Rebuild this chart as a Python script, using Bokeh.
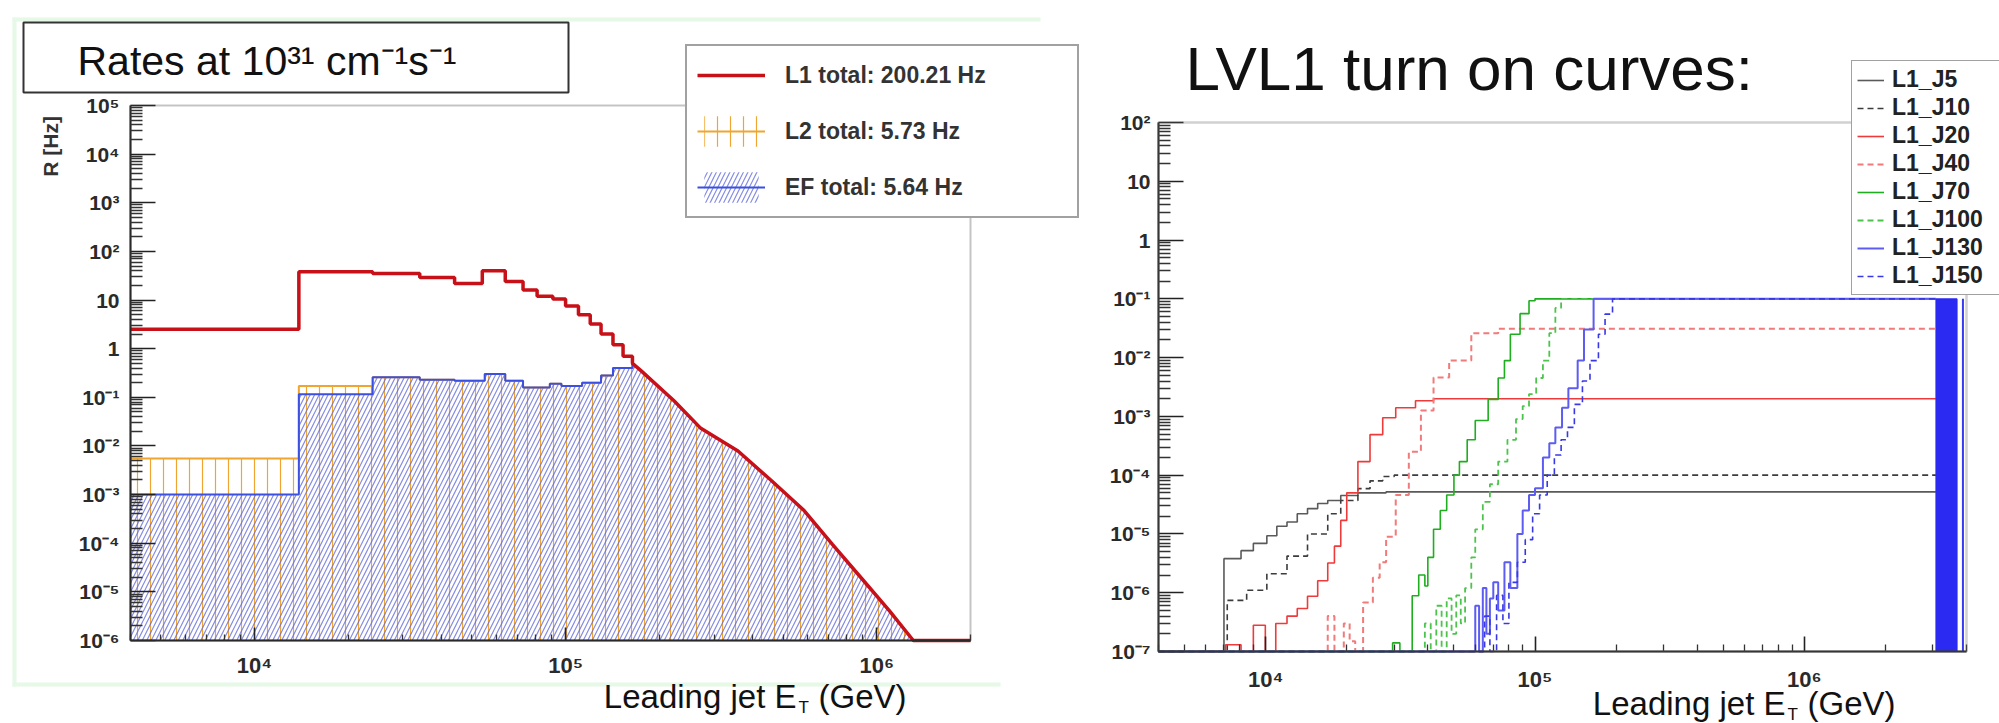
import math
from math import pi
from bokeh.plotting import figure
from bokeh.models import (Range1d, FixedTicker, CustomJSTickFormatter, Label,
                          Legend, LegendItem, BoxAnnotation)
from bokeh.layouts import row
from bokeh.embed import file_html
from bokeh.resources import INLINE

# ---------------- left panel data (rates vs leading jet E_T) ----------------
l1_edges = [4e3, 1.39e4, 2.4e4, 3.4e4, 4.4e4, 5.4e4, 6.4e4, 7.3e4, 8.1e4, 9.1e4,
            1.0e5, 1.1e5, 1.2e5, 1.3e5, 1.42e5, 1.53e5, 1.64e5]
l1_rate = [2.5, 38, 35, 29, 22, 40, 24, 16, 12, 10.5, 7.5, 5.0, 3.2, 2.0, 1.2, 0.7]
hlt_edges = [4e3, 1.39e4, 2.4e4, 3.4e4, 4.4e4, 5.5e4, 6.4e4, 7.3e4, 8.9e4, 9.7e4,
             1.13e5, 1.3e5, 1.42e5, 1.64e5]
l2_rate = [5.5e-3, 0.17, 0.26, 0.23, 0.22, 0.30, 0.22, 0.16, 0.19, 0.17, 0.20, 0.28, 0.40]
ef_rate = [1.0e-3, 0.115, 0.26, 0.23, 0.22, 0.30, 0.22, 0.16, 0.19, 0.17, 0.20, 0.28, 0.40]
tail_e = [1.64e5, 1.75e5, 2.23e5, 2.72e5, 3.58e5, 4.6e5, 5.84e5, 7.2e5, 8.9e5, 1.1e6, 1.31e6, 2.0e6]
tail_r = [0.5, 0.35, 0.085, 0.023, 7.9e-3, 1.9e-3, 4.7e-4, 9.5e-5, 1.95e-5, 4.0e-6, 1.0e-6, 1.0e-6]
left_legend = ["L1 total: 200.21 Hz", "L2 total: 5.73 Hz", "EF total: 5.64 Hz"]
left_xlim = [4e3, 2e6]
left_ylim = [1e-6, 1e5]
left_x_ticks = [1e4, 1e5, 1e6]
left_y_ticks = [1e-6, 1e-5, 1e-4, 1e-3, 1e-2, 1e-1, 1, 10, 1e2, 1e3, 1e4, 1e5]

# ---------------- right panel data (LVL1 turn-on curves) ----------------
j5_e = [4e3, 7.0e3, 8.1e3, 9.0e3, 1.01e4, 1.1e4, 1.2e4, 1.31e4, 1.43e4, 1.56e4, 1.7e4, 1.9e4, 2.2e4, 2.8e4, 3.08e6]
j5_r = [1e-7, 3.8e-6, 5.2e-6, 6.9e-6, 9.3e-6, 1.35e-5, 1.6e-5, 2.2e-5, 2.7e-5, 3.3e-5, 3.7e-5, 4.5e-5, 5.0e-5, 5.2e-5, 5.2e-5]
j10_e = [4e3, 7.2e3, 8.5e3, 1.01e4, 1.2e4, 1.43e4, 1.7e4, 1.9e4, 2.2e4, 2.44e4, 2.72e4, 3.0e4, 3.08e6]
j10_r = [1e-7, 7.4e-7, 1.1e-6, 2.1e-6, 4.2e-6, 1.0e-5, 2.2e-5, 3.7e-5, 5.9e-5, 8.0e-5, 9.5e-5, 1.0e-4, 1.0e-4]
j20_e = [4e3, 7.1e3, 8.1e3, 9.0e3, 9.97e3, 1.09e4, 1.2e4, 1.31e4, 1.43e4, 1.56e4, 1.7e4, 1.8e4,
         1.9e4, 2.0e4, 2.2e4, 2.44e4, 2.72e4, 3.04e4, 3.6e4, 4.2e4, 3.08e6]
j20_r = [1e-7, 1.3e-7, 1e-7, 2.8e-7, 1e-7, 3.0e-7, 4.0e-7, 5.4e-7, 8.7e-7, 1.6e-6, 3.2e-6, 6.2e-6,
         1.7e-5, 5.0e-5, 1.7e-4, 4.9e-4, 9.5e-4, 1.4e-3, 1.85e-3, 2.0e-3, 2.0e-3]
j40_e = [4e3, 1.7e4, 1.8e4, 1.95e4, 2.05e4, 2.15e4, 2.3e4, 2.5e4, 2.65e4, 2.8e4, 3.04e4, 3.4e4,
         3.77e4, 4.2e4, 4.8e4, 5.8e4, 7.3e4, 3.08e6]
j40_r = [1e-7, 4e-7, 1e-7, 3e-7, 1.5e-7, 1e-7, 6.8e-7, 1.8e-6, 3.3e-6, 9e-6, 4.6e-5, 2.5e-4,
         1.26e-3, 4.6e-3, 8.9e-3, 2.6e-2, 3.1e-2, 3.2e-2]
j70_e = [4e3, 2.96e4, 3.15e4, 3.5e4, 3.7e4, 3.9e4, 4.0e4, 4.2e4, 4.45e4, 4.7e4, 5.0e4, 5.24e4,
         5.6e4, 6.0e4, 6.7e4, 7.3e4, 7.7e4, 8.1e4, 8.8e4, 9.5e4, 1.0e5, 3.08e6]
j70_r = [1e-7, 1.4e-7, 1e-7, 8.9e-7, 2.0e-6, 1.3e-6, 4e-6, 1.2e-5, 2.5e-5, 4.6e-5, 1.0e-4, 1.7e-4,
         4.0e-4, 8.5e-4, 1.95e-3, 4.5e-3, 8.9e-3, 2.5e-2, 5.6e-2, 0.093, 0.1, 0.1]
j100_e = [4e3, 3.9e4, 4.1e4, 4.3e4, 4.5e4, 4.7e4, 4.9e4, 5.1e4, 5.3e4, 5.5e4, 5.8e4, 6.0e4, 6.4e4,
          6.8e4, 7.3e4, 7.9e4, 8.5e4, 9.0e4, 9.5e4, 1.01e5, 1.07e5, 1.13e5, 1.19e5, 1.25e5, 3.08e6]
j100_r = [1e-7, 3e-7, 1e-7, 6e-7, 1e-7, 8e-7, 2e-7, 9e-7, 3e-7, 1.2e-6, 4e-6, 1.2e-5, 3.5e-5,
          7e-5, 1.7e-4, 4e-4, 9e-4, 1.5e-3, 2.4e-3, 4.5e-3, 8.9e-3, 2.6e-2, 0.07, 0.1, 0.1]
j130_e = [4e3, 6.0e4, 6.2e4, 6.4e4, 6.6e4, 6.8e4, 7.0e4, 7.3e4, 7.7e4, 8.1e4, 8.6e4, 9.0e4, 9.5e4,
          1.0e5, 1.07e5, 1.13e5, 1.19e5, 1.26e5, 1.33e5, 1.44e5, 1.52e5, 1.65e5, 3.08e6]
j130_r = [1e-7, 6e-7, 1e-7, 1.2e-6, 2e-7, 8e-7, 1.5e-6, 5e-7, 3.3e-6, 1.2e-6, 1.0e-5, 2.5e-5, 4.6e-5,
          6e-5, 2e-4, 3.5e-4, 6.5e-4, 1.4e-3, 3e-3, 8.9e-3, 3e-2, 0.1, 0.1]
j150_e = [4e3, 6.5e4, 6.8e4, 7.2e4, 7.6e4, 8.0e4, 8.6e4, 9.2e4, 9.8e4, 1.04e5, 1.11e5, 1.18e5,
          1.25e5, 1.32e5, 1.4e5, 1.5e5, 1.6e5, 1.72e5, 1.82e5, 1.94e5, 3.08e6]
j150_r = [1e-7, 4e-7, 1e-7, 9e-7, 3e-7, 1.5e-6, 3.3e-6, 8e-6, 2.2e-5, 4.6e-5, 1e-4, 2.2e-4,
          4e-4, 6.5e-4, 1.6e-3, 4e-3, 8.9e-3, 2.5e-2, 5.5e-2, 0.1, 0.1]
overflow_e = [3.08e6, 3.69e6]
overflow_line_e = 3.88e6
overflow_top = 0.1
right_names = ["L1_J5", "L1_J10", "L1_J20", "L1_J40", "L1_J70", "L1_J100", "L1_J130", "L1_J150"]
right_xlim = [4e3, 4e6]
right_ylim = [1e-7, 1e2]
right_x_ticks = [1e4, 1e5, 1e6]
right_y_ticks = [1e-7, 1e-6, 1e-5, 1e-4, 1e-3, 1e-2, 1e-1, 1, 10, 1e2]

FONT = "Liberation Sans"
H = 723


def hist_xy(edges, vals, tx=None, ty=None):
    xs, ys = [], []
    for i, v in enumerate(vals):
        xs += [edges[i], edges[i + 1]]
        ys += [v, v]
    if tx:
        xs += list(tx)
        ys += list(ty)
    return xs, ys


def log_range(lim, p0, p1, total):
    """Range whose log-scale maps lim[0] to pixel p0 and lim[1] to pixel p1 on a canvas of `total` px."""
    a0, a1 = math.log10(lim[0]), math.log10(lim[1])
    k = (a1 - a0) / (p1 - p0)
    return Range1d(10 ** (a0 - k * p0), 10 ** (a0 + k * (total - p0)))


SUPFMT = CustomJSTickFormatter(code="""
const e = Math.round(Math.log10(tick));
if (e == 0) return "1";
if (e == 1) return "10";
const sup = {"-":"\u207b","0":"\u2070","1":"\u00b9","2":"\u00b2","3":"\u00b3","4":"\u2074",
             "5":"\u2075","6":"\u2076","7":"\u2077","8":"\u2078","9":"\u2079"};
return "10" + String(e).split("").map(c => sup[c]).join("");
""")


def minors(ticks):
    out = []
    for t in ticks:
        out += [m * t for m in range(2, 10)]
    return out


def make_panel(width, xlim, ylim, xpix, ypix, xt, yt, yin, xin, box_color, box_w):
    p = figure(width=width, height=H, x_axis_type="log", y_axis_type="log",
               x_range=log_range(xlim, xpix[0], xpix[1], width),
               y_range=log_range(ylim, H - ypix[1], H - ypix[0], H),
               output_backend="svg", toolbar_location=None, min_border=0)
    p.grid.visible = False
    p.outline_line_color = None
    p.background_fill_color = "white"
    p.border_fill_color = "white"
    xa, ya = p.xaxis[0], p.yaxis[0]
    xa.fixed_location = ylim[0]
    ya.fixed_location = xlim[0]
    xa.bounds = tuple(xlim)
    ya.bounds = tuple(ylim)
    xa.ticker = FixedTicker(ticks=xt, minor_ticks=[t for t in minors([1e3] + xt) if xlim[0] <= t <= xlim[1]])
    ya.ticker = FixedTicker(ticks=yt, minor_ticks=[t for t in minors(yt) if ylim[0] <= t <= ylim[1]])
    for ax, tin, fs in ((xa, xin, "22px"), (ya, yin, "21px")):
        ax.formatter = SUPFMT
        ax.major_tick_in = tin
        ax.major_tick_out = 0
        ax.minor_tick_in = tin // 2
        ax.minor_tick_out = 0
        ax.axis_line_color = "#222222"
        ax.axis_line_width = 2
        ax.major_tick_line_color = "#222222"
        ax.major_tick_line_width = 1.6
        ax.minor_tick_line_color = "#333333"
        ax.minor_tick_line_width = 1.3
        ax.major_label_text_font = FONT
        ax.major_label_text_font_size = fs
        ax.major_label_text_font_style = "bold"
        ax.major_label_text_color = "#2a2a2a"
    p.add_layout(BoxAnnotation(left=xlim[0], right=xlim[1], bottom=ylim[0], top=ylim[1],
                               fill_color=None, fill_alpha=0, line_color=box_color, line_width=box_w))
    return p


def add_label(p, ox, X, Y, text, size, align="left", style="normal", color="#111111",
              angle=0.0, baseline="alphabetic"):
    # Y is the wanted alphabetic baseline (canvas px from top); the rendered text sits
    # about 0.36 em lower than asked, so compensate.
    shift = 0.36 * size if baseline == "alphabetic" else 0.0
    p.add_layout(Label(x=X - ox, y=H - (Y - shift), x_units="screen", y_units="screen", text=text,
                       text_font=FONT, text_font_size=f"{size}px", text_font_style=style,
                       text_color=color, text_align=align, text_baseline=baseline, angle=angle))


def add_box(p, ox, l, r, t, b, fill, line=None, lw=0):
    p.add_layout(BoxAnnotation(left=l - ox, right=r - ox, top=H - t, bottom=H - b,
                               left_units="screen", right_units="screen",
                               top_units="screen", bottom_units="screen",
                               fill_color=fill, fill_alpha=1,
                               line_color=line, line_alpha=1 if line else 0, line_width=lw))


# ======================= LEFT FIGURE =======================
LW = 1100
pL = make_panel(LW, left_xlim, left_ylim, (130, 970), (105, 640), left_x_ticks, left_y_ticks,
                25, 13, "#3a3a3a", 2)
pL.xaxis.major_label_standoff = 12
pL.yaxis.major_label_standoff = 11

l1x, l1y = hist_xy(l1_edges, l1_rate, tail_e, tail_r)
l2x, l2y = hist_xy(hlt_edges, l2_rate, tail_e, tail_r)
efx, efy = hist_xy(hlt_edges, ef_rate, tail_e, tail_r)

r_l2a = pL.varea(x=l2x, y1=left_ylim[0], y2=l2y, fill_color=None,
                 hatch_pattern="|", hatch_color="#f0a531", hatch_scale=13, hatch_weight=1.2)
r_efa = pL.varea(x=efx, y1=left_ylim[0], y2=efy, fill_color=None,
                 hatch_pattern="/", hatch_color="#5a64d8", hatch_alpha=0.75, hatch_scale=9, hatch_weight=1.2)
r_l2l = pL.line(l2x, l2y, line_color="#f0a531", line_width=2)
r_efl = pL.line(efx, efy, line_color="#3b4fe0", line_width=2)
r_l1 = pL.line(l1x, l1y, line_color="#c81018", line_width=3.5)

# light-green slide frame, "Rates at" box and texts
for (l, r, t, b) in ((12, 1040, 17, 21), (12, 16, 17, 686), (12, 1000, 682, 686)):
    add_box(pL, 0, l, r, t, b, "#e6f8e6")
add_box(pL, 0, 23, 568, 22, 92, "white", "#333333", 2)
add_label(pL, 0, 77, 75, "Rates at 10\u00b3\u00b9 cm\u207b\u00b9s\u207b\u00b9", 41)
add_label(pL, 0, 50, 143, "R  [Hz]", 21, align="center", style="bold", color="#333333",
          angle=pi / 2, baseline="middle")
add_label(pL, 0, 796, 708, "Leading jet E", 33, align="right")
add_label(pL, 0, 798, 713, "T", 17)
add_label(pL, 0, 818, 708, "(GeV)", 33)

legL = Legend(items=[LegendItem(label=left_legend[0], renderers=[r_l1]),
                     LegendItem(label=left_legend[1], renderers=[r_l2a, r_l2l]),
                     LegendItem(label=left_legend[2], renderers=[r_efa, r_efl])],
              location=(685, H - 218), orientation="vertical")
legL.glyph_width = 68
legL.glyph_height = 38
legL.label_height = 38
legL.spacing = 18
legL.padding = 10
legL.margin = 0
legL.label_standoff = 20
legL.label_width = 282
legL.label_text_font = FONT
legL.label_text_font_size = "23px"
legL.label_text_font_style = "bold"
legL.label_text_color = "#333333"
legL.border_line_color = "#444444"
legL.border_line_width = 2
legL.background_fill_color = "white"
legL.background_fill_alpha = 1
pL.add_layout(legL)

# ======================= RIGHT FIGURE =======================
RW, OX = 899, 1100
pR = make_panel(RW, right_xlim, right_ylim, (1158 - OX, 1966 - OX), (122, 651), right_x_ticks,
                right_y_ticks, 25, 15, "#666666", 2.5)
pR.xaxis.major_label_standoff = 15
pR.yaxis.major_label_standoff = 8

curves = [(j5_e, j5_r, "#5a5a5a", "solid", 1.6),
          (j10_e, j10_r, "#3c3c3c", "6 4", 1.6),
          (j20_e, j20_r, "#ee3a3a", "solid", 1.6),
          (j40_e, j40_r, "#f27a7a", "6 4", 2.0),
          (j70_e, j70_r, "#1fae1f", "solid", 1.6),
          (j100_e, j100_r, "#4cc44c", "6 4", 1.8),
          (j130_e, j130_r, "#5c5cf2", "solid", 2.0),
          (j150_e, j150_r, "#3838e6", "6 4", 1.6)]
rend = []
for (ex, ry, col, dash, w) in curves:
    rend.append(pR.step(ex, ry, mode="after", line_color=col, line_dash=dash, line_width=w))

pR.quad(left=[overflow_e[0]], right=[overflow_e[1]], bottom=[right_ylim[0]], top=[overflow_top],
        fill_color="#2a2af2", line_color="#2a2af2")
pR.segment(x0=[overflow_line_e], y0=[right_ylim[0]], x1=[overflow_line_e], y1=[overflow_top],
           line_color="#3a3af0", line_width=2)

add_label(pR, OX, 1185, 90, "LVL1 turn on curves:", 62)
add_label(pR, OX, 1785, 715, "Leading jet E", 33, align="right")
add_label(pR, OX, 1787, 720, "T", 17)
add_label(pR, OX, 1807, 715, "(GeV)", 33)

legR = Legend(items=[LegendItem(label=n, renderers=[r]) for n, r in zip(right_names, rend)],
              location=(1851 - OX, H - 295), orientation="vertical")
legR.glyph_width = 27
legR.glyph_height = 20
legR.label_height = 20
legR.spacing = 1
legR.padding = 5
legR.margin = 0
legR.label_standoff = 8
legR.label_width = 115
legR.label_text_font = FONT
legR.label_text_font_size = "23px"
legR.label_text_font_style = "bold"
legR.label_text_color = "#222222"
legR.border_line_color = "#444444"
legR.border_line_width = 1.5
legR.background_fill_color = "white"
legR.background_fill_alpha = 1
pR.add_layout(legR)

layout = row(pL, pR)
open("out.html", "w").write(file_html(layout, INLINE))
